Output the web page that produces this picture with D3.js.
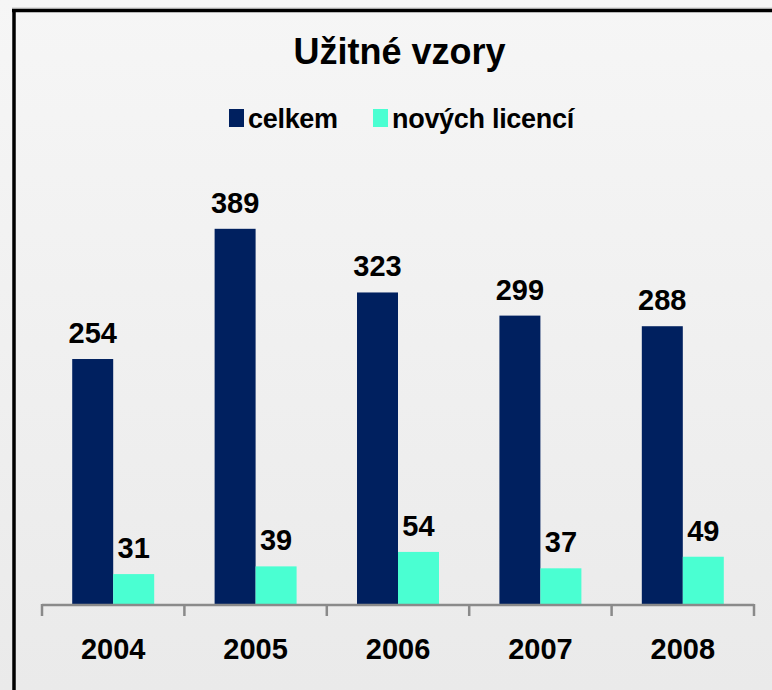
<!DOCTYPE html>
<html>
<head>
<meta charset="utf-8">
<script src="https://cdn.jsdelivr.net/npm/d3@7"></script>
<style>
html,body{margin:0;padding:0;background:#f2f2f2;}
svg{display:block;}
text{font-family:"Liberation Sans",Arial,sans-serif;font-weight:bold;fill:#000;}
</style>
</head>
<body>
<svg id="chart" width="772" height="690"></svg>
<script>
const title = "Užitné vzory";
const years = ["2004","2005","2006","2007","2008"];
const seriesNames = ["celkem","nových licencí"];
const celkem = [254,389,323,299,288];
const novych = [31,39,54,37,49];
const colors = ["#00205f","#4affd2"];

const svg = d3.select("#chart");
const W = 772, H = 690;

const defs = svg.append("defs");
const grad = defs.append("linearGradient").attr("id","bg").attr("x1",0).attr("y1",0).attr("x2",0).attr("y2",1);
grad.append("stop").attr("offset","0%").attr("stop-color","#f6f6f6");
grad.append("stop").attr("offset","100%").attr("stop-color","#eaeaea");
svg.append("rect").attr("width",W).attr("height",H).attr("fill","url(#bg)");

// frame
svg.append("line").attr("x1",12).attr("x2",W).attr("y1",8).attr("y2",8).attr("stroke","#c8c8c8").attr("stroke-width",1);
svg.append("line").attr("x1",12).attr("x2",W).attr("y1",10.5).attr("y2",10.5).attr("stroke","#000").attr("stroke-width",3.5);
svg.append("line").attr("x1",14).attr("x2",14).attr("y1",9).attr("y2",H).attr("stroke","#000").attr("stroke-width",3.5);

// scales
const x = d3.scaleBand().domain(years).range([42,754]).paddingInner(0).paddingOuter(0);
const xs = d3.scaleBand().domain(seriesNames).range([0,x.bandwidth()]).paddingInner(0).paddingOuter(0.737);
const y = d3.scaleLinear().domain([0,400]).range([604,218.2]);

const data = years.map((yr,i)=>({year:yr, values:[{s:seriesNames[0],v:celkem[i],c:colors[0]},{s:seriesNames[1],v:novych[i],c:colors[1]}]}));

const g = svg.selectAll("g.grp").data(data).enter().append("g").attr("class","grp")
  .attr("transform",d=>`translate(${x(d.year)},0)`);
g.selectAll("rect").data(d=>d.values).enter().append("rect")
  .attr("x",d=>xs(d.s)).attr("width",xs.bandwidth())
  .attr("y",d=>y(d.v)).attr("height",d=>y(0)-y(d.v))
  .attr("fill",d=>d.c);
g.selectAll("text.val").data(d=>d.values).enter().append("text").attr("class","val")
  .attr("x",d=>xs(d.s)+xs.bandwidth()/2).attr("y",d=>y(d.v)-16)
  .attr("text-anchor","middle").style("font-size","29px").text(d=>d.v);

// axis
const axis = svg.append("g").attr("transform",`translate(0,${y(0)})`)
  .call(d3.axisBottom(x).tickSize(0).tickSizeOuter(0).tickPadding(0));
axis.select(".domain").remove();
axis.selectAll(".tick line").remove();
axis.selectAll(".tick text").attr("y",55).attr("dy",0).style("font-size","29px").style("font-family","Liberation Sans, Arial, sans-serif").style("font-weight","bold").attr("fill","#000");
svg.append("line").attr("x1",42).attr("x2",754).attr("y1",y(0)+1).attr("y2",y(0)+1).attr("stroke","#8a8a8a").attr("stroke-width",2.5);
const bounds = years.map(d=>x(d)).concat([x(years[years.length-1])+x.bandwidth()]);
svg.selectAll("line.tk").data(bounds).enter().append("line").attr("class","tk")
  .attr("x1",d=>d).attr("x2",d=>d).attr("y1",y(0)).attr("y2",y(0)+12)
  .attr("stroke","#8a8a8a").attr("stroke-width",2.5);

// title
svg.append("text").attr("x",399.5).attr("y",64).attr("text-anchor","middle").style("font-size","36px").text(title);

// legend
const leg = [{t:seriesNames[0],c:colors[0],x:229},{t:seriesNames[1],c:colors[1],x:373}];
const lg = svg.selectAll("g.leg").data(leg).enter().append("g").attr("class","leg").attr("transform",d=>`translate(${d.x},0)`);
lg.append("rect").attr("x",0).attr("y",109).attr("width",15).attr("height",18).attr("fill",d=>d.c);
lg.append("text").attr("x",19).attr("y",128).style("font-size","27px").style("letter-spacing","-0.3px").text(d=>d.t);
</script>
</body>
</html>
